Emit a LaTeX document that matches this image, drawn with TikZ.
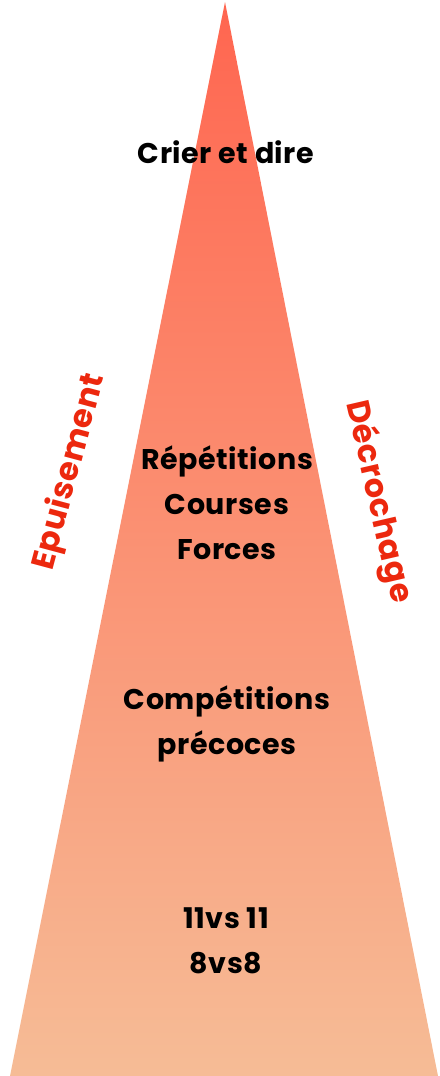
\documentclass[tikz,border=0pt]{standalone}
\usepackage{fontspec}
\setmainfont{Poppins}[LetterSpace=2]
\definecolor{peaktop}{RGB}{255,102,80}
\definecolor{peakbase}{RGB}{246,188,150}
\definecolor{sidered}{RGB}{236,40,14}
\begin{document}
\begin{tikzpicture}[x=1pt,y=-1pt,
  level/.style={font=\fontsize{28.5}{45}\selectfont\bfseries, align=center, text=black},
  sidelabel/.style={font=\fontsize{32}{34}\selectfont\bfseries, text=sidered}]
\useasboundingbox (0,0) rectangle (439,1076);
% the pyramid
\shade[top color=peaktop, bottom color=peakbase] (225,2) -- (438,1076) -- (10,1076) -- cycle;
% levels
\node[level] (crier) at (226,152) {Crier et dire};
\node[level] (rep) at (227,503) {Répétitions\\Courses\\Forces};
\node[level] (comp) at (227,724) {Compétitions\\précoces};
\node[level] (match) at (226,941) {11vs 11\\8vs8};
% side labels
\node[sidelabel, rotate=75] (epuis) at (70,472) {Epuisement};
\node[sidelabel, rotate=-77] (decro) at (378,502) {Décrochage};
\end{tikzpicture}
\end{document}
